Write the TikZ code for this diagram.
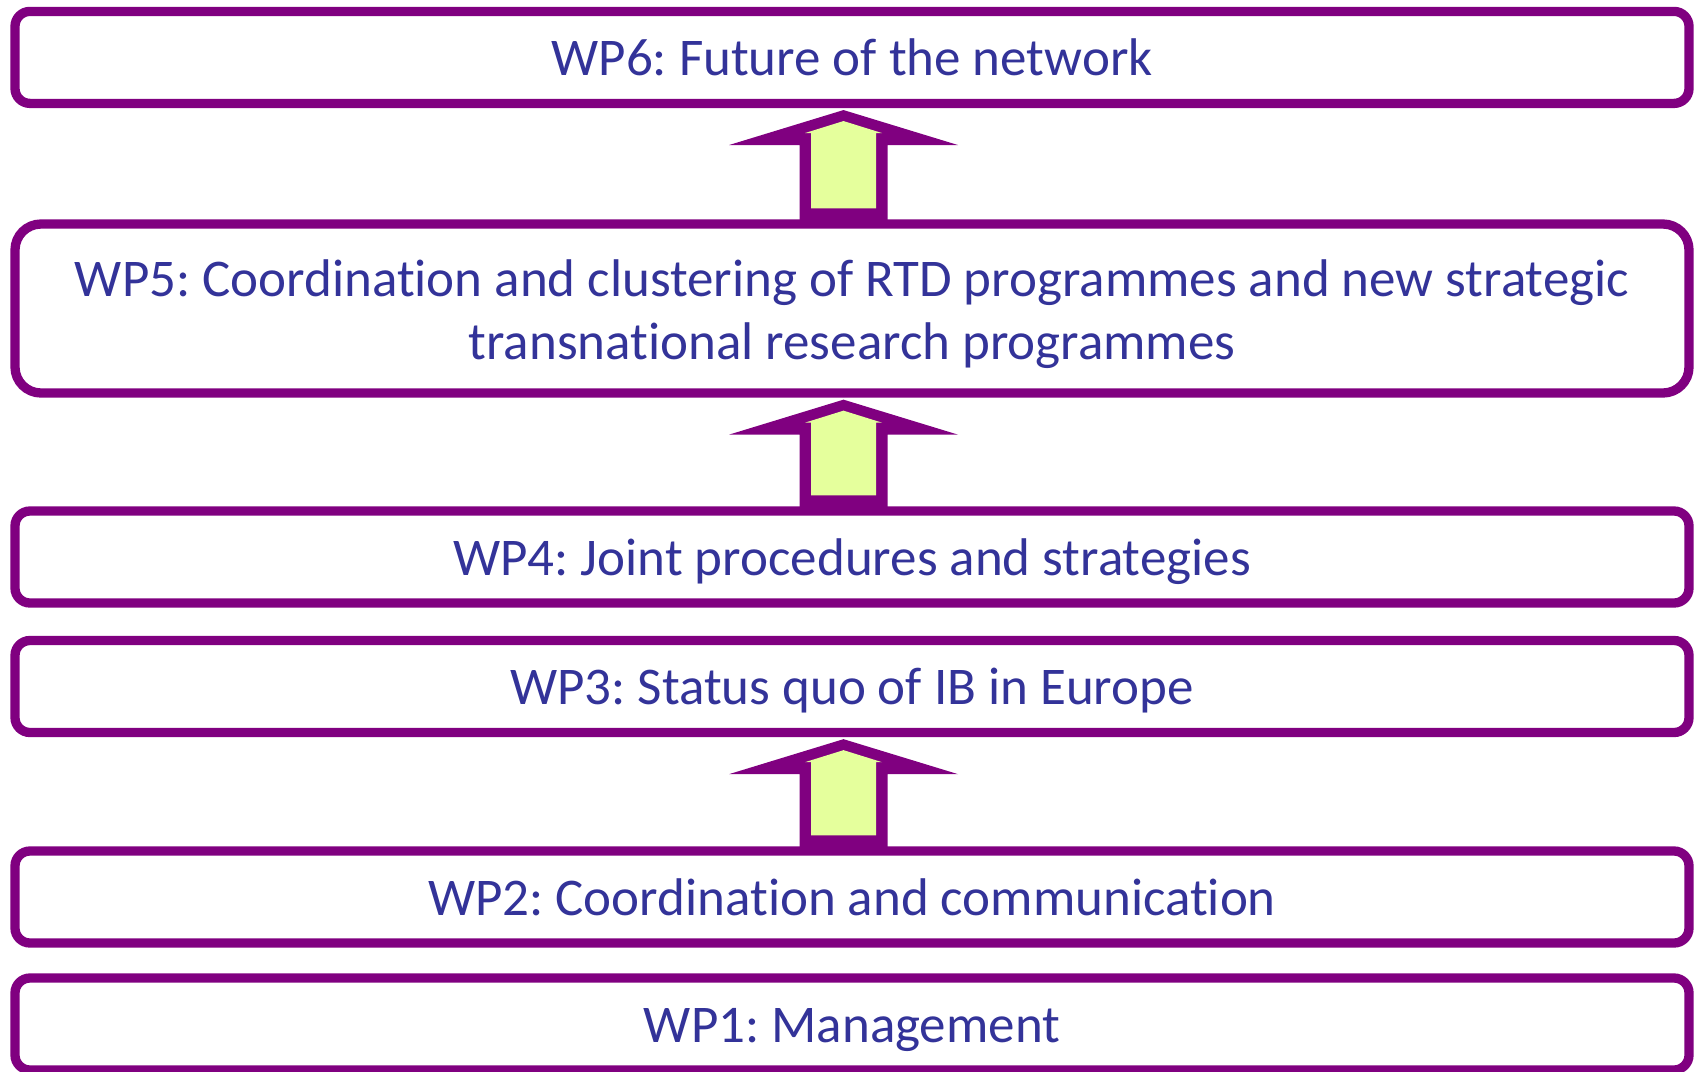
\documentclass[tikz,border=0pt]{standalone}
\usepackage{fontspec}
\setmainfont{Carlito}[RawFeature=-liga]
\frenchspacing
\usetikzlibrary{calc}
\definecolor{wppurple}{HTML}{800080}
\definecolor{wpblue}{HTML}{333399}
\definecolor{wpyellow}{HTML}{E5FF9C}
\tikzset{
	wpbox/.style={draw=wppurple, line width=9.3pt, rounded corners=15pt, fill=white,
		minimum width=1674pt, minimum height=92pt, inner sep=0pt, align=center,
		text height=37pt, text depth=1pt,
		text=wpblue, font=\fontsize{53}{63}\selectfont}
}
% block arrow from the lower box #1 up to the upper box #2
\def\wparrow(#1)(#2){%
	\fill[wppurple] let \p1=(#2.south), \p2=(#1.north) in
		({\x1-8.5pt},{\y1-2pt}) -- ({\x1+106pt},{\y1-37pt}) -- ({\x1+35.5pt},{\y1-37pt})
		-- ({\x1+35.5pt},{\y2-4pt}) -- ({\x1-52.5pt},{\y2-4pt}) -- ({\x1-52.5pt},{\y1-37pt})
		-- ({\x1-123pt},{\y1-37pt}) -- cycle;
	\fill[wpyellow] let \p1=(#2.south), \p2=(#1.north) in
		({\x1-8.5pt},{\y1-13pt}) -- ({\x1+30pt},{\y1-25pt}) -- ({\x1+24pt},{\y1-25pt})
		-- ({\x1+24pt},{\y2+11pt}) -- ({\x1-41pt},{\y2+11pt}) -- ({\x1-41pt},{\y1-25pt})
		-- ({\x1-47pt},{\y1-25pt}) -- cycle;
}

\begin{document}
\begin{tikzpicture}[x=1pt, y=-1pt]
	%%%%% START %%%%%
	\useasboundingbox (0,0) rectangle (1694,1071);
	
	\node[wpbox] (wpsix) at (852, 57.4) {WP6: Future of the network};
	\node[wpbox, minimum height=169pt, rounded corners=26pt, text height=101pt, text depth=0pt]
		(wpfive) at (852, 308.5)
		{WP5: Coordination and clustering of RTD programmes and new strategic\\transnational research programmes};
	\node[wpbox] (wpfour) at (852, 557) {WP4: Joint procedures and strategies};
	\node[wpbox] (wpthree) at (852, 686.5) {WP3: Status quo of IB in Europe};
	\node[wpbox] (wptwo) at (852, 897) {WP2: Coordination and communication};
	\node[wpbox] (wpone) at (852, 1024) {WP1: Management};
	
	\wparrow(wpfive)(wpsix)
	\wparrow(wpfour)(wpfive)
	\wparrow(wptwo)(wpthree)
	%%%%% END %%%%%
\end{tikzpicture}
\end{document}
